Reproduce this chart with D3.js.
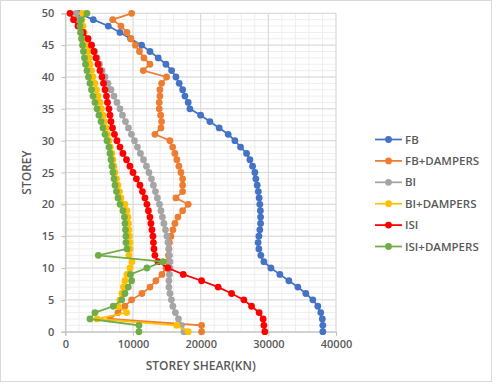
<!DOCTYPE html>
<meta charset="utf-8">
<style>
  body { margin: 0; background: #fff; }
  svg text { font-family: "Open Sans", "Liberation Sans", sans-serif; fill: #595959; }
  .tick-label { font-size: 11px; font-weight: 600; }
  .axis-title { font-size: 12px; font-weight: 600; }
  .legend-label { font-size: 11.5px; font-weight: 600; }
</style>
<body>
<div id="vis"></div>
<script src="https://cdn.jsdelivr.net/npm/d3@7/dist/d3.min.js"></script>
<script>

const width = 498,
    height = 388;

// storey numbers, 0 (base) .. 50 (roof)
const storeys = [0,1,2,3,4,5,6,7,8,9,10,11,12,13,14,15,16,17,18,19,20,21,22,23,24,25,
  26,27,28,29,30,31,32,33,34,35,36,37,38,39,40,41,42,43,44,45,46,47,48,49,50];

// storey shear (kN), listed from storey 0 upward
const fb = [38050,38050,37980,37750,37310,36570,35540,34360,33030,31700,30370,29340,28890,28600,28490,28600,
  28740,28850,28850,28820,28740,28640,28520,28350,28150,28010,27670,27270,26780,25890,25050,24060,22730,21360,
  19990,18400,18150,17670,17330,16820,16340,15700,14860,13720,12500,11270,9650,8070,6340,4120,1910];
const fbDampers = [20130,20130,6590,7770,8800,9790,11310,12500,13380,14270,14860,15160,15230,15300,15380,15600,
  15890,16190,16630,17330,18150,16340,17330,17330,17330,17080,16780,16480,16190,15850,15450,13230,14120,14220,
  14080,13870,13870,13970,13970,14220,14960,11510,12500,11610,10950,10350,9690,9100,8210,6990,9790];
const bi = [17520,17150,16710,16260,15890,15670,15450,15300,15300,15380,15450,15450,15380,15300,15160,15010,
  14790,14560,14340,14120,13900,13600,13310,13010,12720,12350,11980,11540,11090,10650,10210,9760,9320,8880,
  8430,8070,7620,7180,6740,6290,5850,5410,5040,4670,4300,3860,3340,2750,2230,1860,1570];
const biDampers = [18150,16440,4670,9050,7770,8070,8360,8580,8800,9100,9540,9840,9390,9540,9540,9470,
  9390,9320,9250,9100,8800,8210,7990,7770,7550,7330,7180,7030,6880,6660,6440,6220,6000,5780,
  5550,5330,5110,4820,4590,4370,4080,3860,3630,3490,3340,3190,2970,2750,2600,2450,2530];
const isi = [29480,29340,29230,28640,27520,26380,24560,22580,20130,17420,15160,13680,13230,13090,13010,12940,
  12790,12640,12500,12270,12050,11760,11390,11020,10500,9990,9540,9030,8510,8070,7620,7250,6960,6740,
  6590,6440,6220,6070,5850,5630,5410,5110,4820,4520,4220,3860,3340,2600,1860,1200,680];
const isiDampers = [10870,10870,3630,4370,7080,8320,8800,9290,9790,9620,12050,14420,4860,9100,8950,8950,
  8880,8800,8730,8510,8070,7770,7550,7330,7180,7030,6880,6740,6590,6440,6140,5850,5550,5260,
  4960,4670,4370,4080,3860,3630,3410,3190,2970,2820,2670,2530,2380,2230,2160,2300,3190];

const seriesNames = ['FB', 'FB+DAMPERS', 'BI', 'BI+DAMPERS', 'ISI', 'ISI+DAMPERS'];
const seriesValues = [fb, fbDampers, bi, biDampers, isi, isiDampers];
const seriesColors = ['#4472C4', '#ED7D31', '#A5A5A5', '#FFC000', '#FF0000', '#70AD47'];

const xTicks = [0, 10000, 20000, 30000, 40000];
const yTicks = [0, 5, 10, 15, 20, 25, 30, 35, 40, 45, 50];

let plot = {l: 65.4, r: 336, t: 13.3, b: 331.7};

let x = d3.scaleLinear().domain([0, 40000]).range([plot.l, plot.r]);
let y = d3.scaleLinear().domain([0, 50]).range([plot.b, plot.t]);

let svg = d3.select('#vis').append('svg')
    .attr('width', width)
    .attr('height', height);

// chart border
svg.append('rect')
    .attr('x', 0.5).attr('y', 0.5)
    .attr('width', 491).attr('height', 381)
    .attr('fill', '#fff')
    .attr('stroke', '#d9d9d9');

let gridG = svg.append('g').attr('class', 'grid');

// minor grid
gridG.selectAll('.minor-x')
    .data(d3.range(0, 40001, 2000))
    .enter().append('line')
    .attr('x1', d => x(d)).attr('x2', d => x(d))
    .attr('y1', plot.t).attr('y2', plot.b)
    .attr('stroke', '#eeeeee');
gridG.selectAll('.minor-y')
    .data(d3.range(0, 51, 1))
    .enter().append('line')
    .attr('y1', d => y(d)).attr('y2', d => y(d))
    .attr('x1', plot.l).attr('x2', plot.r)
    .attr('stroke', '#eeeeee');

// major grid
gridG.selectAll('.major-x')
    .data(xTicks)
    .enter().append('line')
    .attr('x1', d => x(d)).attr('x2', d => x(d))
    .attr('y1', plot.t).attr('y2', plot.b)
    .attr('stroke', '#d9d9d9');
gridG.selectAll('.major-y')
    .data(yTicks)
    .enter().append('line')
    .attr('y1', d => y(d)).attr('y2', d => y(d))
    .attr('x1', plot.l).attr('x2', plot.r)
    .attr('stroke', '#d9d9d9');

// axes
let xAxis = svg.append('g')
    .attr('transform', 'translate(0,' + plot.b + ')')
    .call(d3.axisBottom(x).tickValues(xTicks).tickSize(4).tickPadding(5).tickFormat(d3.format('d')));
let yAxis = svg.append('g')
    .attr('transform', 'translate(' + plot.l + ',0)')
    .call(d3.axisLeft(y).tickValues(yTicks).tickSize(4).tickPadding(7));
[xAxis, yAxis].forEach(a => {
  a.select('.domain').attr('stroke', '#bfbfbf');
  a.selectAll('.tick line').attr('stroke', '#bfbfbf');
  a.selectAll('.tick text').attr('class', 'tick-label').attr('fill', '#595959');
});

svg.append('text')
    .attr('class', 'axis-title')
    .attr('x', x(20000))
    .attr('y', 370)
    .attr('text-anchor', 'middle')
    .text('STOREY SHEAR(KN)');
svg.append('text')
    .attr('class', 'axis-title')
    .attr('transform', 'translate(31,' + y(25) + ') rotate(-90)')
    .attr('text-anchor', 'middle')
    .text('STOREY');

// series
let line = d3.line()
    .x(d => x(d.v))
    .y(d => y(d.s));

let seriesG = svg.append('g').attr('class', 'series');
seriesNames.forEach((name, k) => {
  let pts = storeys.map((s, i) => ({s: s, v: seriesValues[k][i]}));
  let g = seriesG.append('g');
  g.append('path')
      .attr('d', line(pts))
      .attr('fill', 'none')
      .attr('stroke', seriesColors[k])
      .attr('stroke-width', 1.75);
  g.selectAll('circle')
      .data(pts)
      .enter().append('circle')
      .attr('cx', d => x(d.v))
      .attr('cy', d => y(d.s))
      .attr('r', 3.4)
      .attr('fill', seriesColors[k]);
});

// legend
let legend = svg.append('g')
    .attr('transform', 'translate(375,139.5)');
let item = legend.selectAll('.legend-item')
    .data(seriesNames)
    .enter().append('g')
    .attr('transform', (d, i) => 'translate(0,' + (i * 21.4) + ')');
item.append('line')
    .attr('x1', 0).attr('x2', 27)
    .attr('stroke', (d, i) => seriesColors[i])
    .attr('stroke-width', 1.75);
item.append('circle')
    .attr('cx', 13.5)
    .attr('r', 3.4)
    .attr('fill', (d, i) => seriesColors[i]);
item.append('text')
    .attr('class', 'legend-label')
    .attr('x', 30)
    .attr('dy', '0.35em')
    .text(d => d);

</script>
</body>
